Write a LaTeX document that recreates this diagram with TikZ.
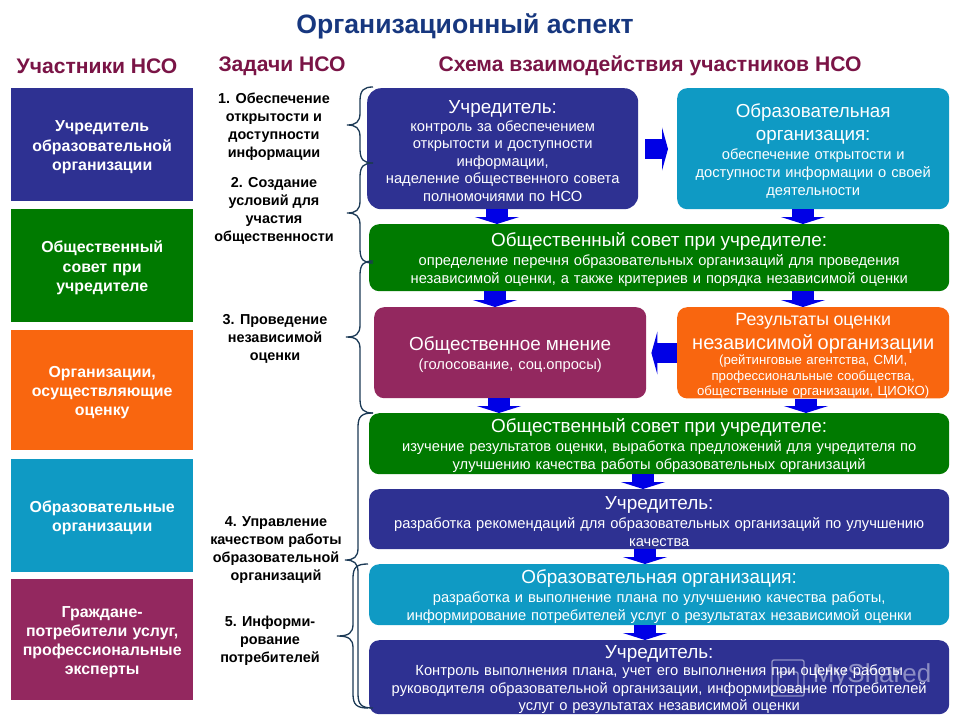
\documentclass[tikz,border=0pt]{standalone}
\usepackage{fontspec}
\setmainfont{Liberation Sans}
\usetikzlibrary{arrows.meta}
\definecolor{cnavy}{HTML}{2E3192}
\definecolor{cgreen}{HTML}{007A00}
\definecolor{corange}{HTML}{F9660F}
\definecolor{cteal}{HTML}{0F9AC4}
\definecolor{cpurple}{HTML}{93285F}
\definecolor{ctitle}{HTML}{17377F}
\definecolor{chead}{HTML}{7A1446}
\definecolor{cbrace}{HTML}{1C3A56}
\definecolor{carrow}{HTML}{0000E6}
\tikzset{
  side/.style={anchor=north west,inner sep=0pt,text=white,align=center,font=\fontsize{15.9}{19.2}\selectfont\bfseries,execute at begin node={\rule{0pt}{16pt}}},
  flow/.style={anchor=north west,inner sep=0pt,text=white,align=center,rounded corners=10pt,execute at begin node={\rule{0pt}{18pt}}},
  bodyf/.style={font=\fontsize{14.7}{18}\selectfont},
  bodytight/.style={font=\fontsize{14.7}{17.5}\selectfont,execute at begin node={\rule{0pt}{16pt}}},
  task/.style={inner sep=0pt,align=center,text=black,font=\fontsize{14.4}{18}\selectfont\bfseries},
  headtext/.style={inner sep=0pt,text=chead,font=\fontsize{21.1}{24}\selectfont\bfseries},
  bracepath/.style={draw=cbrace,line width=1.3pt},
  downarr/.style={draw=carrow,line width=22pt,-{Triangle[width=44pt,length=7pt]}},
  sidearr/.style={draw=carrow,line width=20pt,-{Triangle[width=43pt,length=6pt]}},
}
\newcommand{\hd}[1]{{\fontsize{18.9}{20}\selectfont #1\par}\vspace{1.5pt}}
\newcommand{\hdn}[1]{{\fontsize{18.9}{20}\selectfont #1\par}}
\newcommand{\bracefig}[6]{%
  \draw[bracepath] (#1,#2) .. controls (#3+4,#2) and (#3,#2+3) .. (#3,#2+14)
    -- (#3,#5-12) .. controls (#3,#5-3) and (#3-4,#5) .. (#4,#5)
    .. controls (#3-4,#5) and (#3,#5+3) .. (#3,#5+12)
    -- (#3,#6-14) .. controls (#3,#6-3) and (#3+4,#6) .. (#1,#6);}
\begin{document}
\begin{tikzpicture}[x=1pt,y=-1pt]
\useasboundingbox (0,0) rectangle (960,720);
\fill[white] (0,0) rectangle (960,720);
% titles
\node[inner sep=0pt,text=ctitle,font=\fontsize{26.6}{30}\selectfont\bfseries] (title) at (465,26) {Организационный аспект};
\node[headtext] (h1) at (97,66) {Участники НСО};
\node[headtext] (h2) at (282,66) {Задачи НСО};
\node[headtext] (h3) at (650,66) {Схема взаимодействия участников НСО};
% left column
\node[side,fill=cnavy,minimum width=182pt,minimum height=113pt,text width=176pt] (s1) at (11,88) {Учредитель\\образовательной\\организации};
\node[side,fill=cgreen,minimum width=182pt,minimum height=113pt,text width=176pt] (s2) at (11,209) {Общественный\\совет при\\учредителе};
\node[side,fill=corange,minimum width=182pt,minimum height=120pt,text width=176pt] (s3) at (11,330) {Организации,\\осуществляющие\\оценку};
\node[side,fill=cteal,minimum width=182pt,minimum height=113pt,text width=176pt] (s4) at (11,459) {Образовательные\\организации};
\node[side,fill=cpurple,minimum width=182pt,minimum height=121pt,text width=178pt] (s5) at (11,579) {Граждане-\\потребители услуг,\\профессиональные\\эксперты};
% tasks
\node[task] (t1) at (274,127) {1. Обеспечение\\открытости и\\доступности\\информации};
\node[task] (t2) at (274,211) {2. Создание\\условий для\\участия\\общественности};
\node[task] (t3) at (275,339) {3. Проведение\\независимой\\оценки};
\node[task] (t4) at (276,550.5) {4. Управление\\качеством работы\\образовательной\\организаций};
\node[task] (t5) at (270,641) {5. Информи-\\рование\\потребителей};
% flow boxes
\node[flow,bodytight,fill=cnavy,rounded corners=14pt,minimum width=271pt,minimum height=121pt,text width=265pt] (u1) at (367,88) {\hdn{Учредитель:}контроль за обеспечением\\открытости и доступности\\информации,\\наделение общественного совета\\полномочиями по НСО};
\node[flow,bodyf,fill=cteal,minimum width=272pt,minimum height=121pt,text width=265pt,execute at begin node={\rule{0pt}{16pt}}] (o1) at (677,88) {{\fontsize{18.8}{23}\selectfont Образовательная\\организация:\par}\vspace{1pt}обеспечение открытости и\\доступности информации о своей\\деятельности};
\node[flow,bodyf,fill=cgreen,minimum width=580pt,minimum height=67pt,text width=570pt] (g1) at (369,224) {\hd{Общественный совет при учредителе:}определение перечня образовательных организаций для проведения\\независимой оценки, а также критериев и порядка независимой оценки};
\node[flow,bodyf,fill=cpurple,minimum width=272pt,minimum height=91pt,text width=265pt] (pm) at (374,307) {\hd{Общественное мнение}(голосование, соц.опросы)};
\node[flow,fill=corange,minimum width=272pt,minimum height=91pt,text width=272pt,font=\fontsize{13.2}{15.5}\selectfont,execute at begin node={\rule{0pt}{16pt}}] (res) at (677,307) {{\fontsize{17.8}{24}\selectfont Результаты оценки\par}{\fontsize{20}{24}\selectfont независимой организации\par}(рейтинговые агентства, СМИ,\\профессиональные сообщества,\\общественные организации, ЦИОКО)};
\node[flow,bodyf,fill=cgreen,minimum width=580pt,minimum height=61pt,text width=570pt] (g2) at (369,413) {\hd{Общественный совет при учредителе:}изучение результатов оценки, выработка предложений для учредителя по\\улучшению качества работы образовательных организаций};
\node[flow,bodytight,fill=cnavy,minimum width=580pt,minimum height=60pt,text width=570pt] (n2) at (369,489) {\hd{Учредитель:}разработка рекомендаций для образовательных организаций по улучшению\\качества};
\node[flow,bodyf,fill=cteal,minimum width=580pt,minimum height=61pt,text width=570pt] (t) at (369,564) {\hd{Образовательная организация:}разработка и выполнение плана по улучшению качества работы,\\информирование потребителей услуг о результатах независимой оценки};
\node[flow,bodytight,fill=cnavy,minimum width=580pt,minimum height=74pt,text width=570pt] (n3) at (369,640) {\hdn{Учредитель:}Контроль выполнения плана, учет его выполнения при оценке работы\\руководителя образовательной организации, информирование потребителей\\услуг о результатах независимой оценки};
% arrows
\coordinate (xa) at (497,0);
\coordinate (xb) at (803,0);
\coordinate (xc) at (495,0);
\coordinate (xd) at (499,0);
\coordinate (xe) at (806,0);
\coordinate (xf) at (643,0);
\coordinate (xg) at (645,0);
\coordinate (ya) at (0,149);
\coordinate (yb) at (0,353);
\draw[downarr] (u1.south -| xa) -- (g1.north -| xa);
\draw[downarr] (o1.south -| xb) -- (g1.north -| xb);
\draw[downarr] (g1.south -| xc) -- (pm.north -| xc);
\draw[downarr] (g1.south -| xb) -- (res.north -| xb);
\draw[downarr] (pm.south -| xd) -- (g2.north -| xd);
\draw[downarr] (res.south -| xe) -- (g2.north -| xe);
\draw[downarr] (g2.south -| xf) -- (n2.north -| xf);
\draw[downarr] (n2.south -| xg) -- (t.north -| xg);
\draw[downarr] (t.south -| xg) -- (n3.north -| xg);
\draw[sidearr,shorten <=7pt,shorten >=9pt] (u1.east |- ya) -- (o1.west |- ya);
\draw[sidearr,shorten >=5pt] (res.west |- yb) -- (pm.east |- yb);
% braces
\bracefig{373}{87}{360}{347}{125}{163}
\bracefig{373}{163}{360}{347}{213}{263}
\bracefig{373}{261}{360}{346}{337}{413}
\bracefig{373}{413}{358}{345}{560}{708}
\bracefig{368}{564}{353}{337}{636}{708}
% watermark
\node[inner sep=0pt,text=white,opacity=.45,font=\fontsize{26}{30}\selectfont] (mark) at (872,676) {MyShared};
\draw[white,opacity=.45,line width=1.4pt,rounded corners=2pt] (772,660) rectangle (804,696);
\draw[white,opacity=.45,line width=1.4pt,rounded corners=2pt] (778,672) rectangle (798,690);
\end{tikzpicture}
\end{document}
